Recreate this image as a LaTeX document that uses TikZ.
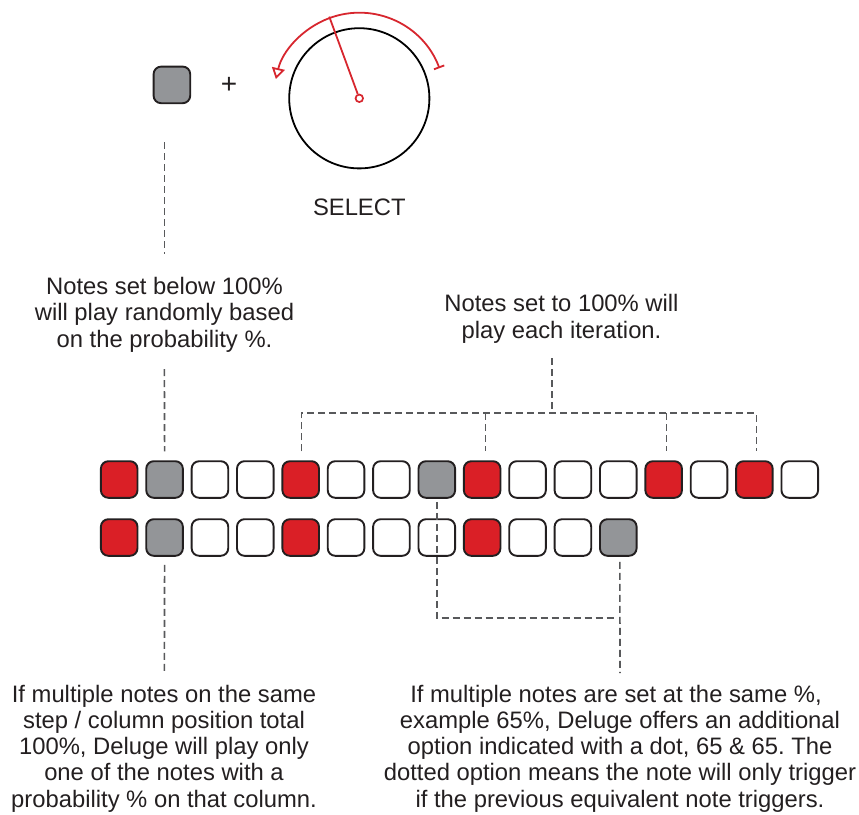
\documentclass[tikz,border=0pt]{standalone}
\usepackage{fontspec}
\setmainfont{Liberation Sans}
\usetikzlibrary{arrows.meta,calc}
\definecolor{pred}{HTML}{DA1F26}
\definecolor{pgray}{HTML}{939598}
\definecolor{pborder}{HTML}{231F20}
\definecolor{dgray}{HTML}{58595B}
\definecolor{kred}{HTML}{D7262E}
\definecolor{txt}{HTML}{231F20}
\frenchspacing
\begin{document}
\begin{tikzpicture}[x=1pt,y=-1pt,
  padbox/.style={rectangle, rounded corners=7.5pt, draw=pborder, line width=1.9pt,
    minimum width=36.6pt, minimum height=36.6pt, inner sep=0pt},
  whitebox/.style={padbox, fill=white},
  redbox/.style={padbox, fill=pred},
  graybox/.style={padbox, fill=pgray},
  dashline/.style={draw=dgray, line width=1.6pt, dash pattern=on 7pt off 4pt},
  txtline/.style={font=\fontsize{23.8}{26.3}\selectfont, text=txt, inner sep=0pt, anchor=base},
]
\useasboundingbox (0,0) rectangle (859,814);

% --- top: button + knob ---
\node[graybox] (btn) at (171.9,84.9) {};
\node[txtline, anchor=center, font=\fontsize{28}{30}\selectfont] (plus) at (229,85.5) {+};
\node[circle, draw=black, line width=1.8pt, minimum size=140.2pt, inner sep=0pt] (knob) at (359.3,98.3) {};
\node[circle, draw=kred, fill=white, line width=1.7pt, minimum size=7.5pt, inner sep=0pt] (hub) at (knob.center) {};
\coordinate (ptr) at ($(knob.center)+(-110.2:87)$);
\draw[kred, line width=1.8pt] (hub) -- (ptr);
\coordinate (arcstart) at ($(knob.center)+(-20.6:85.6)$);
\draw[kred, line width=1.8pt, {Bar[width=11pt]}-{Triangle[open,length=11pt,width=13pt]}]
  (arcstart) arc[start angle=-20.6, end angle=-167, radius=85.6];
\node[txtline] (select) at (359.3,215) {SELECT};

% --- pads ---
\foreach \i/\c in {1/redbox,2/graybox,3/whitebox,4/whitebox,5/redbox,6/whitebox,7/whitebox,8/graybox,
                   9/redbox,10/whitebox,11/whitebox,12/whitebox,13/redbox,14/whitebox,15/redbox,16/whitebox}
  \node[\c] (p1-\i) at ({119.2+(\i-1)*45.37},479.5) {};
\foreach \i/\c in {1/redbox,2/graybox,3/whitebox,4/whitebox,5/redbox,6/whitebox,7/whitebox,8/whitebox,
                   9/redbox,10/whitebox,11/whitebox,12/graybox}
  \node[\c] (p2-\i) at ({119.2+(\i-1)*45.37},537.5) {};

% --- texts ---
\node[txtline] (ta1) at (164.5,294) {Notes set below 100\%};
\node[txtline] (ta2) at (164.5,320.5) {will play randomly based};
\node[txtline] (ta3) at (164.5,347) {on the probability \%.};

\node[txtline] (tb1) at (561.5,311.5) {Notes set to 100\% will};
\node[txtline] (tb2) at (561.5,338) {play each iteration.};

\node[txtline] (tc1) at (164,702) {If multiple notes on the same};
\node[txtline] (tc2) at (164,728.3) {step / column position total};
\node[txtline] (tc3) at (164,754.6) {100\%, Deluge will play only};
\node[txtline] (tc4) at (164,780.9) {one of the notes with a};
\node[txtline] (tc5) at (164,807.2) {probability \% on that column.};

\node[txtline] (td1) at (616,702) {If multiple notes are set at the same \%,};
\node[txtline] (td2) at (620,728.3) {example 65\%, Deluge offers an additional};
\node[txtline] (td3) at (620,754.6) {option indicated with a dot, 65 \& 65. The};
\node[txtline] (td4) at (620,780.9) {dotted option means the note will only trigger};
\node[txtline] (td5) at (620,807.2) {if the previous equivalent note triggers.};

% --- dashed connectors, left column ---
\coordinate (la) at (164.4,142);
\coordinate (lb) at (164.4,254);
\draw[dashline] (la) -- (lb);
\coordinate (lc) at (164.4,369);
\draw[dashline] (lc) -- ([yshift=9pt]p1-2.north);
\coordinate (ld) at (164.4,672);
\draw[dashline] ([yshift=-8pt]p2-2.south) -- (ld);

% --- dashed bracket, top right ---
\coordinate (stem) at (552,358);
\coordinate (brk) at (552,413);
\draw[dashline] (stem) -- (brk);
\draw[dashline] ([xshift=1pt,yshift=9pt]p1-5.north) -- ([xshift=1pt]p1-5 |- brk) -- ([xshift=2pt]p1-15 |- brk) -- ([xshift=2pt,yshift=9pt]p1-15.north);
\draw[dashline] ([xshift=3.5pt]p1-9 |- brk) -- ([xshift=3.5pt,yshift=9pt]p1-9.north);
\draw[dashline] ([xshift=3pt]p1-13 |- brk) -- ([xshift=3pt,yshift=9pt]p1-13.north);

% --- dashed bracket, bottom right ---
\coordinate (brk2) at (437,618);
\draw[dashline] ([yshift=-3pt]p1-8.south) -- (p1-8 |- brk2) -- ([xshift=-3pt]p2-12 |- brk2);
\coordinate (re) at (620,673);
\draw[dashline] ([xshift=1.6pt,yshift=-5pt]p2-12.south) -- (re);
\end{tikzpicture}
\end{document}
